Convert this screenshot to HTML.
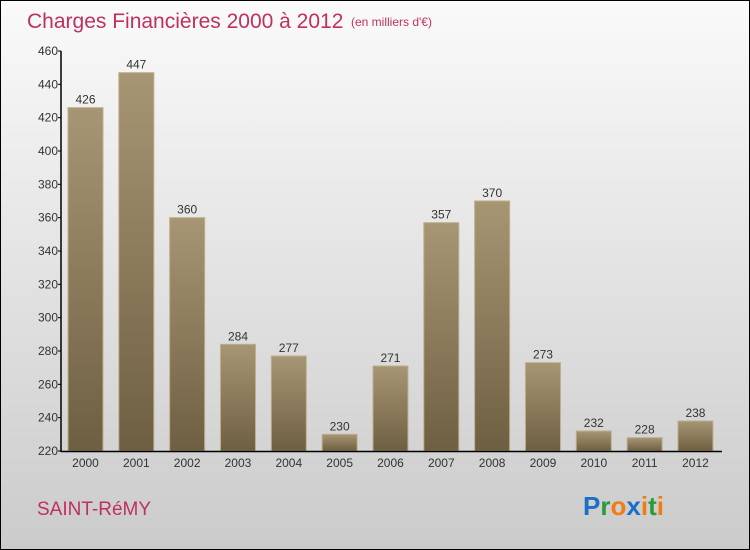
<!DOCTYPE html>
<html><head><meta charset="utf-8"><style>
body{margin:0}
#c{position:relative;width:748px;height:548px;border:1px solid #000;background:linear-gradient(#fafafa,#cbcbcb);font-family:"Liberation Sans",sans-serif;overflow:hidden}
</style></head><body>
<div id="c">
<svg width="748" height="548" style="position:absolute;left:0;top:0">
<defs><linearGradient id="g" x1="0" y1="0" x2="0" y2="1"><stop offset="0" stop-color="#a79674"/><stop offset="1" stop-color="#6f5f42"/></linearGradient></defs>
<text x="26" y="27" font-size="21" fill="#c0305e">Charges Financières 2000 à 2012</text>
<text x="350" y="25" font-size="12" fill="#c0305e">(en milliers d'€)</text>
<g id="plot"></g>
<text x="36" y="514" font-size="19" fill="#c0305e">SAINT-RéMY</text>
<text x="582" y="514" font-size="26" font-weight="bold"><tspan fill="#1a6fc9">P</tspan><tspan fill="#2a9a3a">r</tspan><tspan fill="#f07c12">o</tspan><tspan fill="#1a6fc9">x</tspan><tspan fill="#f07c12">i</tspan><tspan fill="#2a9a3a">t</tspan><tspan fill="#f07c12">i</tspan></text>
</svg>
</div>
<script>
const categories=["2000","2001","2002","2003","2004","2005","2006","2007","2008","2009","2010","2011","2012"];
const values=[426,447,360,284,277,230,271,357,370,273,232,228,238];
const yTicks=[220,240,260,280,300,320,340,360,380,400,420,440,460];
const ns="http://www.w3.org/2000/svg";
const g=document.getElementById('plot');
const y0=450,yTop=50,vMin=220,vMax=460;
function y(v){return y0-(v-vMin)/(vMax-vMin)*(y0-yTop);}
const xL=60,step=50.83,first=84.5;
function x(i){return first+i*step;}
function mk(t,a){const e=document.createElementNS(ns,t);for(const k in a)e.setAttribute(k,a[k]);g.appendChild(e);return e;}
yTicks.forEach(v=>{
 const l=mk('line',{x1:xL-3,x2:xL,y1:y(v),y2:y(v),stroke:'#000'});
 
 
 const t=mk('text',{x:xL-3,y:y(v)+4,'font-size':12,'text-anchor':'end',fill:'#333'});
 t.textContent=v;
 
 
});
values.forEach((v,i)=>{
 const b=mk('rect',{x:x(i)-17.5,y:y(v),width:35,height:y0-y(v),fill:'url(#g)',stroke:'#bfae8c','stroke-width':1});
 
 
 const t=mk('text',{x:x(i),y:y(v)-4,'font-size':12,'text-anchor':'middle',fill:'#333'});
 t.textContent=v;
 
 
 const c=mk('text',{x:x(i),y:y0+16,'font-size':12,'text-anchor':'middle',fill:'#333'});
 c.textContent=categories[i];
 
 
});
const ya=mk('line',{x1:xL,x2:xL,y1:yTop,y2:y0+1,stroke:'#000','stroke-width':1.5});


const xa=mk('line',{x1:xL,x2:721,y1:y0+0.5,y2:y0+0.5,stroke:'#000','stroke-width':1.5});


</script>
</body></html>
